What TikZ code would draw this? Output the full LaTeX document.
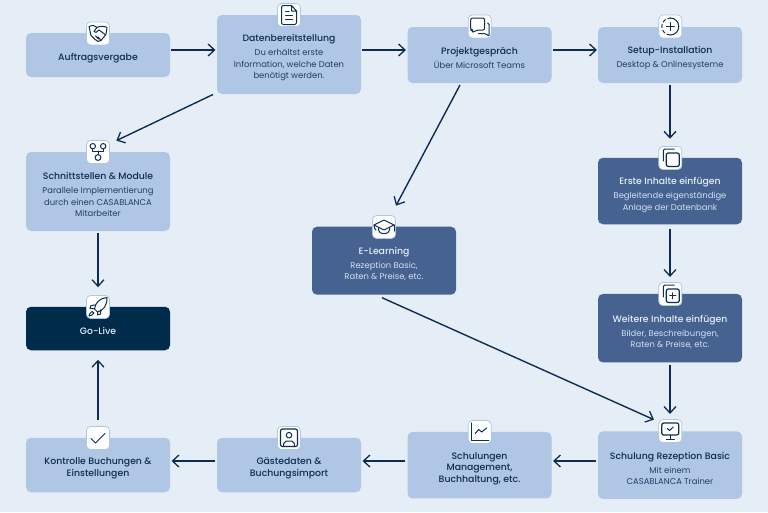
\documentclass[tikz,border=0pt]{standalone}
\usepackage{fontspec}
\setmainfont{Poppins}
\newfontfamily\medfont{Poppins Medium}
\usetikzlibrary{arrows.meta,calc}
\definecolor{bgc}{HTML}{E5EDF7}
\definecolor{lightc}{HTML}{AFC6E4}
\definecolor{midc}{HTML}{466290}
\definecolor{darkc}{HTML}{002B4B}
\definecolor{linec}{HTML}{0E2D50}
\definecolor{subc}{HTML}{1F3F68}
\definecolor{onmid}{HTML}{E5EDF7}
\definecolor{onmidsub}{HTML}{D3E0F1}
\newcommand{\ti}[1]{{\medfont\fontsize{9.3}{11.5}\selectfont #1}}
\newcommand{\su}[1]{{\color{subtone}\fontsize{8.4}{11.3}\selectfont #1}}
\tikzset{
  stepbox/.style={draw=none,rounded corners=5pt,minimum width=144pt,inner sep=0pt,outer sep=0pt},
  lightbox/.style={stepbox,fill=lightc},
  midbox/.style={stepbox,fill=midc},
  darkbox/.style={stepbox,fill=darkc},
  txtdark/.style={align=center,inner sep=0pt,text=linec,font=\fontsize{8.4}{11.3}\selectfont},
  txtlight/.style={align=center,inner sep=0pt,text=onmid,font=\fontsize{8.4}{11.3}\selectfont},
  iconbox/.style={draw=lightc,line width=0.7pt,fill=white,rounded corners=4pt,minimum width=23pt,minimum height=23pt,inner sep=0pt},
  ico/.style={draw=linec,line width=1pt,line join=round,line cap=round},
  conn/.style={draw=linec,line width=1.4pt,-{Straight Barb[length=6.5pt,width=12pt,line width=1.3pt]}}
}
\colorlet{subtone}{subc}
\begin{document}
\begin{tikzpicture}[x=1pt,y=-1pt]
\useasboundingbox (0,0) rectangle (768,512);
\fill[bgc] (0,0) rectangle (768,512);
% boxes
\node[lightbox,minimum height=44pt] (auftrag) at (98,55) {};
\node[lightbox,minimum height=79pt] (daten) at (289,54.5) {};
\node[lightbox,minimum height=56pt] (projekt) at (479.5,55) {};
\node[lightbox,minimum height=56pt] (setup) at (670,55) {};
\node[lightbox,minimum height=79pt] (schnitt) at (98,191.5) {};
\node[darkbox,minimum height=43.5pt] (golive) at (98,328.5) {};
\node[midbox,minimum height=66.5pt] (erste) at (670,191) {};
\node[midbox,minimum height=68.5pt] (weitere) at (670,328.2) {};
\node[midbox,minimum height=68pt] (elearn) at (384,260.7) {};
\node[lightbox,minimum height=54.5pt] (kontrolle) at (98,465) {};
\node[lightbox,minimum height=54.5pt] (gaeste) at (289,465) {};
\node[lightbox,minimum height=66.5pt] (schulungen) at (479.5,465.2) {};
\node[lightbox,minimum height=67.5pt] (rezeption) at (670,465.2) {};
% texts
\node[txtdark] (t1) at (98,58.3) {\ti{Auftragsvergabe}};
\node[txtdark] (t2) at (289,57.8) {\ti{Datenbereitstellung}\\[2.7pt]\su{Du erhältst erste}\\\su{Information, welche Daten}\\\su{benötigt werden.}};
\node[txtdark] (t3) at (479.5,58) {\ti{Projektgespräch}\\[2.7pt]\su{Über Microsoft Teams}};
\node[txtdark] (t4) at (670,58) {\ti{Setup-Installation}\\[2.7pt]\su{Desktop \& Onlinesysteme}};
\node[txtdark] (t5) at (98,194.5) {\ti{Schnittstellen \& Module}\\[2.7pt]\su{Parallele Implementierung}\\\su{durch einen CASABLANCA}\\\su{Mitarbeiter}};
\node[txtlight] (t6) at (98,331.3) {\ti{Go-Live}};
\colorlet{subtone}{onmidsub}
\node[txtlight] (t7) at (670,195) {\ti{Erste Inhalte einfügen}\\[2.7pt]\su{Begleitende eigenständige}\\\su{Anlage der Datenbank}};
\node[txtlight] (t8) at (670,332) {\ti{Weitere Inhalte einfügen}\\[2.7pt]\su{Bilder, Beschreibungen,}\\\su{Raten \& Preise, etc.}};
\node[txtlight] (t9) at (384,263.8) {\ti{E-Learning}\\[2.7pt]\su{Rezeption Basic,}\\\su{Raten \& Preise, etc.}};
\colorlet{subtone}{subc}
\node[txtdark] (t10) at (98,468.3) {\ti{Kontrolle Buchungen \&}\\\ti{Einstellungen}};
\node[txtdark] (t11) at (289,468.3) {\ti{Gästedaten \&}\\\ti{Buchungsimport}};
\node[txtdark] (t12) at (479.5,468.8) {\ti{Schulungen}\\\ti{Management,}\\\ti{Buchhaltung, etc.}};
\node[txtdark] (t13) at (670,468.5) {\ti{Schulung Rezeption Basic}\\[2.7pt]\su{Mit einem}\\\su{CASABLANCA Trainer}};
% icon tiles
\node[iconbox] (i1) at (98,33.4) {};
\node[iconbox] (i2) at (289,15) {};
\node[iconbox] (i3) at (479.7,26.5) {};
\node[iconbox] (i4) at (670.3,26.5) {};
\node[iconbox] (i5) at (98,152) {};
\node[iconbox] (i6) at (98,307) {};
\node[iconbox] (i7) at (670.3,158) {};
\node[iconbox] (i8) at (670.3,294) {};
\node[iconbox] (i9) at (384,227) {};
\node[iconbox] (i10) at (98,438) {};
\node[iconbox] (i11) at (289,438) {};
\node[iconbox] (i12) at (479.7,432) {};
\node[iconbox] (i13) at (670.3,431) {};
% icons
\begin{scope}[shift={(i1.center)}] % handshake
\draw[ico] (-9,-7) -- (-5,-8) -- (-1,-6) -- (2,-7) -- (6,-7) -- (9,-6) -- (8,1) -- (3,7) -- (0,8) -- (-3,6) -- (-7,2) -- cycle;
\draw[ico] (-1,-6) -- (-4,-2) -- (-2,-1) -- (1,-3.5) -- (7,1);
\draw[ico] (3,7) -- (0,3.5) (0.5,5.5) -- (-2.5,2.5);
\end{scope}
\begin{scope}[shift={(i2.center)}] % document
\draw[ico,rounded corners=2pt] (2.5,-9.5) -- (-7.5,-9.5) -- (-7.5,9.5) -- (7.5,9.5) -- (7.5,-4);
\draw[ico] (7.5,-4) -- (2.5,-9.5) -- (2.5,-4) -- (7.5,-4);
\draw[ico] (-3.5,-3.5) -- (0,-3.5) (-3.5,0.5) -- (3.5,0.5) (-3.5,4.5) -- (3.5,4.5);
\end{scope}
\begin{scope}[shift={(i3.center)}] % chat
\draw[ico,rounded corners=2pt] (-7,6.5) -- (-7,3.5) -- (-9,3.5) -- (-9,-8.5) -- (5,-8.5) -- (5,3.5) -- (-3.5,3.5) -- cycle;
\draw[ico,rounded corners=1.5pt] (8,-3.5) -- (9.5,-3.5) -- (9.5,10) -- (6,7) -- (-1,7);
\end{scope}
\begin{scope}[shift={(i4.center)}] % dashed circle plus
\draw[ico] (0,-8.5) arc[start angle=-90,end angle=90,radius=8.5];
\draw[ico,dash pattern=on 3.4pt off 2.6pt] (0,8.5) arc[start angle=90,end angle=270,radius=8.5];
\draw[ico] (-4,0) -- (4,0) (0,-4) -- (0,4);
\end{scope}
\begin{scope}[shift={(i5.center)}] % nodes tree
\draw[ico] (-5.2,-5.8) circle (2.7) (5.2,-5.8) circle (2.7) (0,5.5) circle (2.9);
\draw[ico] (-5.2,-3) -- (-5.2,-1) -- (5.2,-1) -- (5.2,-3) (0,-1) -- (0,2.6);
\end{scope}
\begin{scope}[shift={(i6.center)}] % rocket
\draw[ico] (9,-9.5) .. controls (2,-9) and (-3,-4) .. (-3.5,2) -- (-0.5,5) .. controls (5,4) and (9.5,-2) .. (9,-9.5) -- cycle;
\draw[ico] (-3,-2) -- (-7,-1.5) -- (-8,1.5) -- (-4,1.5) (3,2.5) -- (2.5,7) -- (-0.5,8) -- (-0.5,5);
\draw[ico] (-6,4.5) .. controls (-8,5.5) and (-9,8) .. (-9,9) .. controls (-8,9) and (-5,8) .. (-4,6) -- cycle;
\end{scope}
\begin{scope}[shift={(i7.center)}] % copy
\draw[ico,rounded corners=2pt,line width=1.2pt] (-4,-5) rectangle (9,8.5);
\draw[ico,rounded corners=2pt] (-7,3) -- (-7,-9) -- (4,-9);
\end{scope}
\begin{scope}[shift={(i8.center)}] % copy plus
\draw[ico,rounded corners=2pt,line width=1.2pt] (-4,-5) rectangle (9,8.5);
\draw[ico,rounded corners=2pt] (-7,3) -- (-7,-9) -- (4,-9);
\draw[ico,line width=1.2pt] (-0.5,1.8) -- (5.5,1.8) (2.5,-1.2) -- (2.5,4.8);
\end{scope}
\begin{scope}[shift={(i9.center)}] % graduation cap
\draw[ico] (0,-7) -- (-10,-2) -- (0,3) -- (10,-2) -- cycle;
\draw[ico] (-5.5,1) -- (-5.5,3) .. controls (-5.5,8) and (5.5,8) .. (5.5,3) -- (5.5,1);
\draw[ico] (-10,-2) .. controls (-10,1) and (-9,2) .. (-8,3);
\draw[ico] (10,-2) -- (10,4);
\end{scope}
\begin{scope}[shift={(i10.center)}] % check
\draw[ico] (-7,0.5) -- (-2.5,5) -- (7,-4.5);
\end{scope}
\begin{scope}[shift={(i11.center)}] % profile card
\draw[ico,rounded corners=2pt,line width=1.2pt] (-8.5,-9) rectangle (8.5,8.5);
\draw[ico] (0,-2.8) circle (2.8);
\draw[ico] (-5.3,8.5) -- (-5.3,5.5) -- (-3,3) -- (3,3) -- (5.3,5.5) -- (5.3,8.5);
\end{scope}
\begin{scope}[shift={(i12.center)}] % chart
\draw[ico,line width=1.2pt] (-8.5,-9) -- (-8.5,8.5) -- (9,8.5);
\draw[ico] (-4.5,1.5) -- (-1,-2.5) -- (2,0) -- (7,-4);
\end{scope}
\begin{scope}[shift={(i13.center)}] % monitor
\draw[ico,rounded corners=2pt,line width=1.2pt] (-8.5,-8) rectangle (8.5,4);
\draw[ico] (-3,-2.5) -- (-0.8,-0.5) -- (3,-4);
\draw[ico] (0,4) -- (0,8) (-4,8.5) -- (4,8.5);
\end{scope}
% connectors
\draw[conn] ($(auftrag.east)+(1,-5)$) -- ($(daten.west)+(-1.5,-4.5)$);
\draw[conn] ($(daten.east)+(1,-4.5)$) -- ($(projekt.west)+(-1.5,-5)$);
\draw[conn] ($(projekt.east)+(1.5,-5)$) -- ($(setup.west)+(-1,-5)$);
\draw[conn] ($(setup.south)+(0,2)$) -- ($(erste.north)+(0,-19)$);
\draw[conn] ($(erste.south)+(0,4.5)$) -- ($(weitere.north)+(0,-17)$);
\draw[conn] ($(weitere.south)+(0,2.5)$) -- ($(rezeption.north)+(0,-17.5)$);
\draw[conn] ($(daten.south west)+(-4,0.5)$) -- ($(i5.north east)+(6.5,0.5)$);
\draw[conn] ($(projekt.south west)+(52.5,2)$) -- ($(i9.north)+(12,-9.5)$);
\draw[conn] ($(elearn.south west)+(70,3)$) -- ($(i13.north west)+(-4.5,0.5)$);
\draw[conn] ($(schnitt.south)+(0,2)$) -- ($(i6.north)+(0,-8)$);
\draw[conn] ($(i10.north)+(0,-6)$) -- ($(golive.south)+(0,9.5)$);
\draw[conn] ($(rezeption.west)+(-2,-4.2)$) -- ($(schulungen.east)+(1.5,-4.2)$);
\draw[conn] ($(schulungen.west)+(-2.5,-4.2)$) -- ($(gaeste.east)+(1.5,-4)$);
\draw[conn] ($(gaeste.west)+(-2,-4)$) -- ($(kontrolle.east)+(1.5,-4)$);
\end{tikzpicture}
\end{document}
